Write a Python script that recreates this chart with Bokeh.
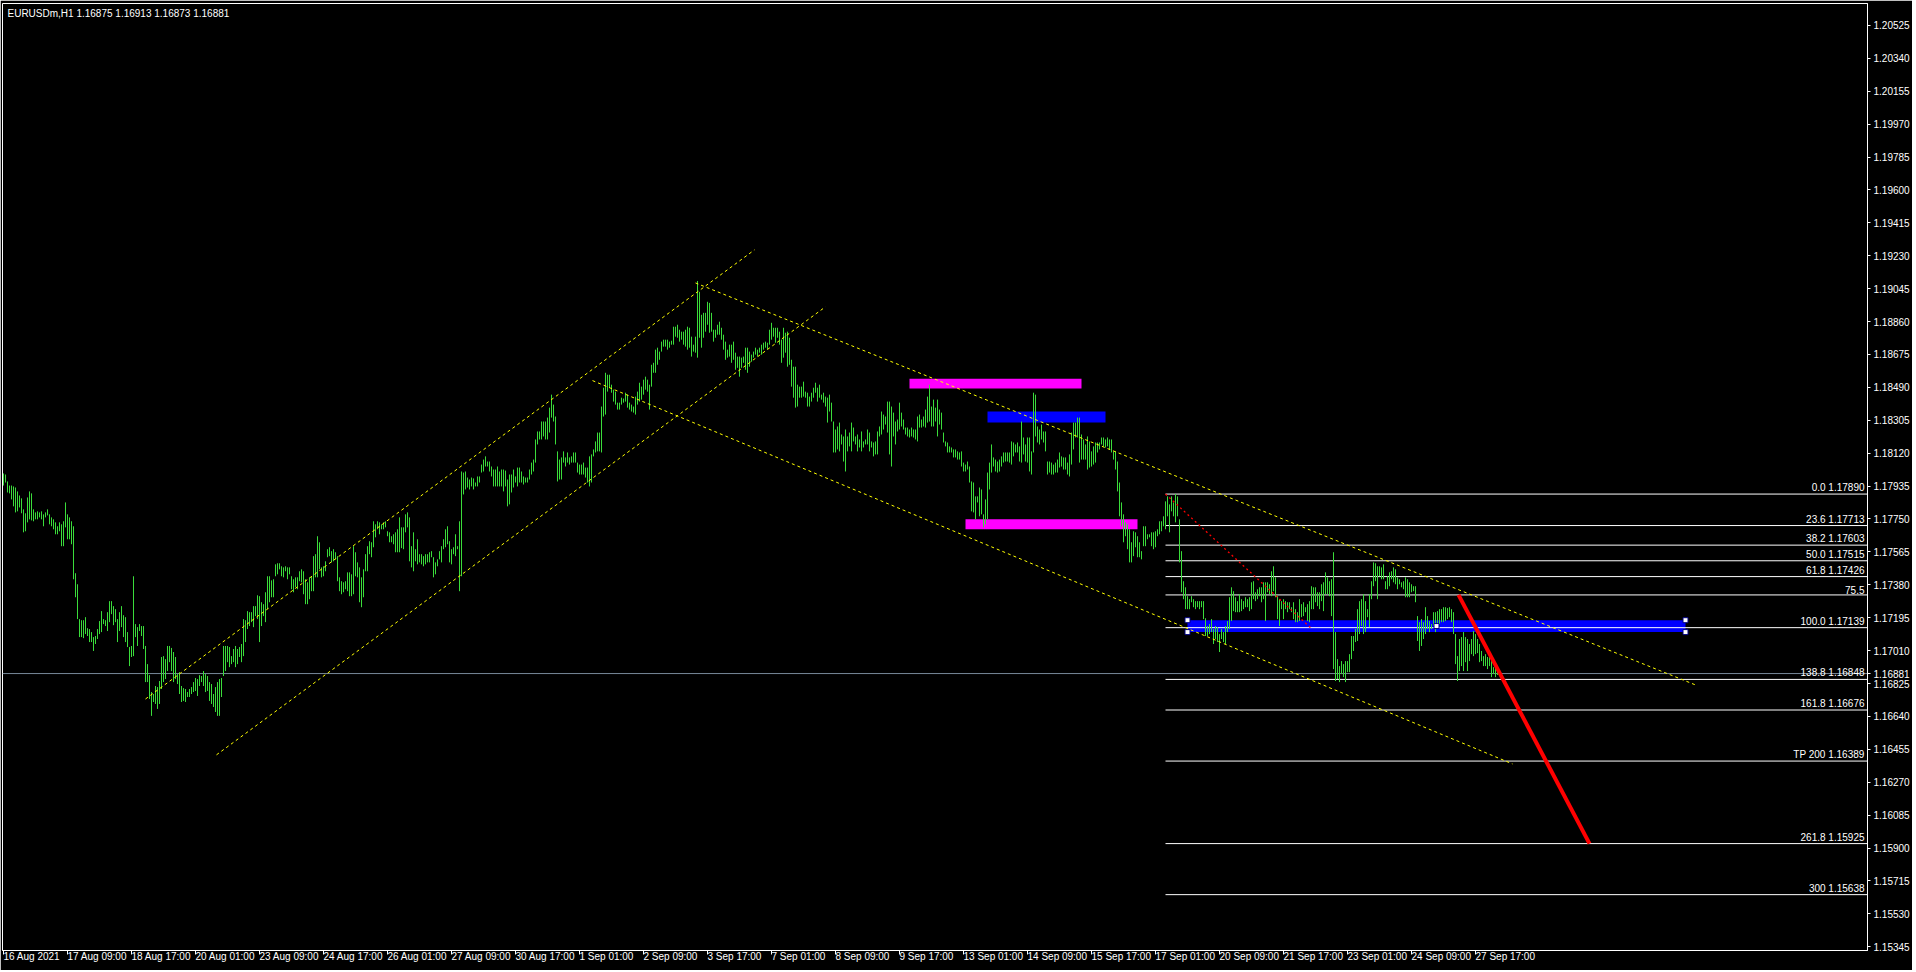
from bokeh.plotting import figure
from bokeh.models import Range1d, FixedTicker, PrintfTickFormatter
from bokeh.embed import file_html
from bokeh.resources import INLINE
from bokeh.core.properties import value

FONT = "Liberation Sans"

symbol_title = "EURUSDm,H1  1.16875 1.16913 1.16873 1.16881"
bid = 1.16881

# ---- hourly bar highs / lows (EURUSD H1, 16 Aug - 27 Sep 2021) ----
highs = [
    1.18006, 1.18000, 1.17961, 1.17938, 1.17938, 1.17933, 1.17927, 1.17905, 1.17882, 1.17866,
    1.17804, 1.17782, 1.17871, 1.17905, 1.17894, 1.17804, 1.17787, 1.17793, 1.17787, 1.17793,
    1.17776, 1.17787, 1.17804, 1.17776, 1.17759, 1.17748, 1.17731, 1.17709, 1.17731, 1.17720,
    1.17737, 1.17843, 1.17776, 1.17759, 1.17737, 1.17709, 1.17445, 1.17383, 1.17187, 1.17181,
    1.17181, 1.17198, 1.17136, 1.17131, 1.17114, 1.17086, 1.17092, 1.17131, 1.17176, 1.17232,
    1.17187, 1.17181, 1.17226, 1.17288, 1.17288, 1.17260, 1.17243, 1.17187, 1.17226, 1.17260,
    1.17209, 1.17198, 1.17114, 1.17030, 1.17036, 1.17428, 1.17159, 1.17142, 1.17159, 1.17148,
    1.17148, 1.17036, 1.16934, 1.16872, 1.16777, 1.16766, 1.16811, 1.16805, 1.16839, 1.16974,
    1.16979, 1.16962, 1.17036, 1.17036, 1.17025, 1.17002, 1.16974, 1.16878, 1.16889, 1.16811,
    1.16799, 1.16794, 1.16777, 1.16794, 1.16805, 1.16833, 1.16856, 1.16850, 1.16872, 1.16867,
    1.16895, 1.16878, 1.16867, 1.16833, 1.16822, 1.16766, 1.16805, 1.16833, 1.16850, 1.16856,
    1.17036, 1.17036, 1.17036, 1.17030, 1.16979, 1.17019, 1.17036, 1.17019, 1.17030, 1.17047,
    1.17187, 1.17181, 1.17232, 1.17226, 1.17226, 1.17260, 1.17260, 1.17321, 1.17316, 1.17282,
    1.17271, 1.17338, 1.17428, 1.17428, 1.17405, 1.17411, 1.17495, 1.17501, 1.17501, 1.17484,
    1.17478, 1.17484, 1.17478, 1.17478, 1.17428, 1.17411, 1.17422, 1.17422, 1.17456,
    1.17467, 1.17456, 1.17411, 1.17394, 1.17422, 1.17428, 1.17541, 1.17552, 1.17653, 1.17619,
    1.17478, 1.17484, 1.17512, 1.17580, 1.17591, 1.17569, 1.17580, 1.17563, 1.17541, 1.17422,
    1.17400, 1.17394, 1.17400, 1.17450, 1.17450, 1.17439, 1.17597, 1.17563, 1.17506, 1.17478,
    1.17422, 1.17467, 1.17552, 1.17597, 1.17625, 1.17619, 1.17737, 1.17720, 1.17737, 1.17731,
    1.17720, 1.17731, 1.17737, 1.17681, 1.17675, 1.17653, 1.17664, 1.17675, 1.17692, 1.17759,
    1.17703, 1.17703, 1.17776, 1.17787, 1.17759, 1.17597, 1.17675, 1.17580, 1.17636, 1.17552,
    1.17552, 1.17541, 1.17552, 1.17552, 1.17563, 1.17569, 1.17535, 1.17506, 1.17523, 1.17569,
    1.17597, 1.17636, 1.17692, 1.17709, 1.17625, 1.17580, 1.17591, 1.17664, 1.17597, 1.17737,
    1.18017, 1.18011, 1.18017, 1.17983, 1.17972, 1.17983, 1.17978, 1.17955, 1.17989, 1.17989,
    1.18056, 1.18084, 1.18102, 1.18073, 1.18073, 1.18045, 1.18028, 1.18028, 1.18045, 1.18017,
    1.18028, 1.18028, 1.18022, 1.17972, 1.18000, 1.18000, 1.18028, 1.17989, 1.18039, 1.18039,
    1.18017, 1.17989, 1.17983, 1.17983, 1.18028, 1.18067, 1.18084, 1.18197, 1.18242, 1.18242,
    1.18298, 1.18298, 1.18298, 1.18320, 1.18376, 1.18449, 1.18393, 1.18326, 1.18130, 1.18084,
    1.18096, 1.18130, 1.18096, 1.18124, 1.18096, 1.18102, 1.18124, 1.18124, 1.18067, 1.18056,
    1.18056, 1.18067, 1.18039, 1.18039, 1.18102, 1.18113, 1.18141, 1.18186, 1.18236, 1.18236,
    1.18382, 1.18488, 1.18572, 1.18561, 1.18561, 1.18505, 1.18477, 1.18466, 1.18404, 1.18404,
    1.18432, 1.18427, 1.18460, 1.18449, 1.18404, 1.18393, 1.18382, 1.18438, 1.18466, 1.18516,
    1.18494, 1.18533, 1.18550, 1.18533, 1.18505, 1.18617, 1.18628, 1.18702, 1.18713, 1.18691,
    1.18747, 1.18758, 1.18758, 1.18758, 1.18747, 1.18752, 1.18831, 1.18831, 1.18842, 1.18814,
    1.18803, 1.18803, 1.18814, 1.18831, 1.18825, 1.18775, 1.18730, 1.18775, 1.19088, 1.19027,
    1.18898, 1.18909, 1.18909, 1.18971, 1.18965, 1.18909,
    1.18814, 1.18814, 1.18842, 1.18859, 1.18825, 1.18786, 1.18747, 1.18702, 1.18730, 1.18730,
    1.18747, 1.18685, 1.18663, 1.18663, 1.18657, 1.18663, 1.18713, 1.18713, 1.18691, 1.18674,
    1.18691, 1.18713, 1.18702, 1.18713, 1.18730, 1.18741, 1.18747, 1.18741, 1.18814, 1.18853,
    1.18825, 1.18825, 1.18825, 1.18803, 1.18758, 1.18825, 1.18797, 1.18803, 1.18769, 1.18645,
    1.18606, 1.18606, 1.18505, 1.18494, 1.18494, 1.18522, 1.18466, 1.18460, 1.18438, 1.18460,
    1.18488, 1.18516, 1.18488, 1.18505, 1.18449, 1.18460, 1.18438, 1.18432, 1.18449, 1.18404,
    1.18298, 1.18253, 1.18270, 1.18292, 1.18225, 1.18214, 1.18253, 1.18214, 1.18236, 1.18292,
    1.18264, 1.18214, 1.18225, 1.18197, 1.18242, 1.18186, 1.18197, 1.18253, 1.18236, 1.18186,
    1.18180, 1.18186, 1.18242, 1.18270, 1.18354, 1.18337, 1.18326, 1.18410, 1.18410, 1.18382,
    1.18348, 1.18298, 1.18309, 1.18404, 1.18348, 1.18309, 1.18264, 1.18264, 1.18253, 1.18264,
    1.18253, 1.18253, 1.18326, 1.18337, 1.18309, 1.18326, 1.18365, 1.18438, 1.18505, 1.18382,
    1.18421, 1.18376, 1.18421, 1.18365, 1.18348, 1.18236, 1.18186, 1.18180, 1.18158, 1.18152,
    1.18141, 1.18141, 1.18130, 1.18124, 1.18130, 1.18067, 1.18056, 1.18073, 1.18045, 1.17961,
    1.17955, 1.17877, 1.17877, 1.17927, 1.17916, 1.17776, 1.17860, 1.18011, 1.18067, 1.18169,
    1.18096, 1.18084, 1.18073, 1.18084, 1.18102, 1.18124, 1.18124, 1.18124, 1.18124, 1.18186,
    1.18180, 1.18169, 1.18180, 1.18158, 1.18298, 1.18208, 1.18169, 1.18208, 1.18208, 1.18130,
    1.18460, 1.18449, 1.18270, 1.18253, 1.18281, 1.18242, 1.18242, 1.18073, 1.18073, 1.18067,
    1.18056, 1.18067, 1.18084, 1.18124, 1.18102, 1.18096, 1.18096, 1.18067, 1.18113, 1.18236,
    1.18292, 1.18292, 1.18320, 1.18320, 1.18225, 1.18197, 1.18169, 1.18214, 1.18186, 1.18130,
    1.18158, 1.18180, 1.18180, 1.18180, 1.18208, 1.18208, 1.18197, 1.18208, 1.18197, 1.18197,
    1.18130, 1.18130, 1.18073, 1.17955, 1.17843, 1.17776, 1.17731, 1.17720, 1.17692, 1.17619,
    1.17681, 1.17675, 1.17653, 1.17619, 1.17569, 1.17709, 1.17709, 1.17664, 1.17664, 1.17675,
    1.17675, 1.17681, 1.17692, 1.17737, 1.17737, 1.17765, 1.17849, 1.17877, 1.17832, 1.17877,
    1.17843, 1.17890, 1.17877,
    1.17748, 1.17569, 1.17400, 1.17366, 1.17316, 1.17299, 1.17316, 1.17299, 1.17288, 1.17288,
    1.17288, 1.17288, 1.17288, 1.17192, 1.17148, 1.17159, 1.17187, 1.17131, 1.17148, 1.17142,
    1.17103, 1.17131, 1.17114, 1.17148, 1.17176, 1.17310, 1.17366, 1.17344, 1.17310, 1.17288,
    1.17327, 1.17299, 1.17288, 1.17310, 1.17299, 1.17310, 1.17394, 1.17400, 1.17338, 1.17355,
    1.17366, 1.17366, 1.17394, 1.17394, 1.17394, 1.17383, 1.17456, 1.17484, 1.17422, 1.17316,
    1.17299, 1.17288, 1.17299, 1.17288, 1.17282, 1.17282, 1.17254, 1.17282, 1.17243, 1.17226,
    1.17299, 1.17271, 1.17282, 1.17254, 1.17271, 1.17288, 1.17372, 1.17366, 1.17366, 1.17338,
    1.17338, 1.17383, 1.17394, 1.17450, 1.17422, 1.17400, 1.17411, 1.17563, 1.17114, 1.16962,
    1.16923, 1.16951, 1.16934, 1.16951, 1.16951, 1.16990, 1.17092, 1.17092, 1.17131, 1.17243,
    1.17288, 1.17299, 1.17327, 1.17288, 1.17243, 1.17327, 1.17400, 1.17506, 1.17501, 1.17484,
    1.17484, 1.17478, 1.17495, 1.17400, 1.17428, 1.17450, 1.17456, 1.17478, 1.17467, 1.17422,
    1.17411, 1.17394, 1.17400, 1.17422, 1.17411, 1.17394, 1.17383, 1.17372, 1.17372, 1.17204,
    1.17170, 1.17187, 1.17170, 1.17254, 1.17204, 1.17176, 1.17159, 1.17226, 1.17226, 1.17232,
    1.17243, 1.17243, 1.17254, 1.17254, 1.17249, 1.17254, 1.17243, 1.17226, 1.17103, 1.16979,
    1.17075, 1.17086, 1.17114, 1.17086, 1.17075, 1.17047, 1.17075, 1.17120, 1.17103, 1.17075,
    1.17047, 1.17008, 1.16979, 1.16990, 1.16974, 1.16974, 1.16951, 1.16917, 1.16945, 1.16913,
]
lows = [
    1.17938, 1.17955, 1.17899, 1.17894, 1.17860, 1.17821, 1.17787, 1.17793, 1.17815, 1.17782,
    1.17675, 1.17681, 1.17731, 1.17748, 1.17742, 1.17737, 1.17748, 1.17748, 1.17759, 1.17748,
    1.17709, 1.17759, 1.17770, 1.17720, 1.17709, 1.17692, 1.17664, 1.17664, 1.17681, 1.17597,
    1.17597, 1.17703, 1.17636, 1.17636, 1.17608, 1.17411, 1.17310, 1.17187, 1.17086, 1.17086,
    1.17080, 1.17103, 1.17092, 1.17058, 1.17058, 1.17008, 1.17047, 1.17075, 1.17103, 1.17114,
    1.17159, 1.17148, 1.17120, 1.17170, 1.17215, 1.17153, 1.17170, 1.17058, 1.17120, 1.17142,
    1.17086, 1.17058, 1.17030, 1.16923, 1.16974, 1.16979, 1.17086, 1.17036, 1.17120, 1.17092,
    1.17019, 1.16833, 1.16833, 1.16738, 1.16643, 1.16721, 1.16710, 1.16682, 1.16710, 1.16794,
    1.16833, 1.16850, 1.16895, 1.16945, 1.16895, 1.16833, 1.16850, 1.16822, 1.16766, 1.16721,
    1.16727, 1.16721, 1.16749, 1.16749, 1.16766, 1.16777, 1.16783, 1.16755, 1.16811, 1.16833,
    1.16811, 1.16777, 1.16783, 1.16727, 1.16710, 1.16693, 1.16665, 1.16643, 1.16643, 1.16749,
    1.16867, 1.16895, 1.16945, 1.16917, 1.16934, 1.16945, 1.16917, 1.16934, 1.16974, 1.16945,
    1.16979, 1.17058, 1.17131, 1.17148, 1.17170, 1.17142, 1.17204, 1.17187, 1.17058, 1.17148,
    1.17204, 1.17170, 1.17243, 1.17282, 1.17310, 1.17310, 1.17428, 1.17439, 1.17467, 1.17428,
    1.17422, 1.17456, 1.17411, 1.17439, 1.17355, 1.17338, 1.17366, 1.17355, 1.17400,
    1.17394, 1.17327, 1.17271, 1.17271, 1.17299, 1.17344, 1.17344, 1.17422, 1.17422, 1.17467,
    1.17422, 1.17428, 1.17456, 1.17535, 1.17541, 1.17506, 1.17512, 1.17523, 1.17400, 1.17344,
    1.17327, 1.17338, 1.17355, 1.17344, 1.17316, 1.17316, 1.17327, 1.17428, 1.17422, 1.17282,
    1.17254, 1.17310, 1.17456, 1.17456, 1.17552, 1.17535, 1.17591, 1.17647, 1.17692, 1.17664,
    1.17692, 1.17692, 1.17703, 1.17653, 1.17619, 1.17619, 1.17608, 1.17563, 1.17563, 1.17563,
    1.17586, 1.17580, 1.17675, 1.17703, 1.17512, 1.17478, 1.17456, 1.17512, 1.17495, 1.17506,
    1.17495, 1.17484, 1.17495, 1.17506, 1.17506, 1.17535, 1.17422, 1.17439, 1.17484, 1.17523,
    1.17506, 1.17580, 1.17591, 1.17608, 1.17506, 1.17495, 1.17552, 1.17541, 1.17580, 1.17344,
    1.17428, 1.17888, 1.17916, 1.17927, 1.17916, 1.17933, 1.17916, 1.17933, 1.17933, 1.17955,
    1.18011, 1.18017, 1.18045, 1.18045, 1.18017, 1.17989, 1.17933, 1.17933, 1.17933, 1.17933,
    1.17933, 1.17905, 1.17933, 1.17821, 1.17832, 1.17899, 1.17927, 1.17955, 1.17933, 1.17955,
    1.17955, 1.17944, 1.17955, 1.17955, 1.17972, 1.18000, 1.18017, 1.18067, 1.18169, 1.18197,
    1.18197, 1.18214, 1.18197, 1.18197, 1.18236, 1.18320, 1.18298, 1.18169, 1.17961, 1.17972,
    1.17972, 1.18067, 1.18045, 1.18067, 1.18056, 1.18067, 1.18067, 1.18067, 1.18011, 1.18000,
    1.18000, 1.18000, 1.17983, 1.17955, 1.17933, 1.17955, 1.18102, 1.18124, 1.18130, 1.18130,
    1.18124, 1.18326, 1.18337, 1.18466, 1.18488, 1.18460, 1.18410, 1.18393, 1.18365, 1.18365,
    1.18393, 1.18404, 1.18410, 1.18376, 1.18365, 1.18354, 1.18348, 1.18337, 1.18393, 1.18410,
    1.18421, 1.18449, 1.18477, 1.18466, 1.18365, 1.18494, 1.18572, 1.18572, 1.18617, 1.18645,
    1.18691, 1.18719, 1.18719, 1.18702, 1.18713, 1.18730, 1.18730, 1.18775, 1.18769, 1.18747,
    1.18758, 1.18730, 1.18719, 1.18702, 1.18713, 1.18663, 1.18691, 1.18685, 1.18657, 1.18769,
    1.18713, 1.18769, 1.18803, 1.18842, 1.18797, 1.18803,
    1.18747, 1.18769, 1.18786, 1.18786, 1.18758, 1.18702, 1.18645, 1.18657, 1.18663, 1.18628,
    1.18645, 1.18589, 1.18600, 1.18550, 1.18600, 1.18628, 1.18589, 1.18572, 1.18606, 1.18634,
    1.18657, 1.18674, 1.18663, 1.18685, 1.18674, 1.18702, 1.18713, 1.18702, 1.18730, 1.18758,
    1.18775, 1.18741, 1.18769, 1.18730, 1.18628, 1.18657, 1.18685, 1.18606, 1.18617, 1.18494,
    1.18432, 1.18376, 1.18382, 1.18432, 1.18432, 1.18438, 1.18432, 1.18382, 1.18382, 1.18410,
    1.18432, 1.18460, 1.18410, 1.18432, 1.18421, 1.18404, 1.18382, 1.18292, 1.18354, 1.18298,
    1.18124, 1.18124, 1.18141, 1.18130, 1.18169, 1.18073, 1.18017, 1.18130, 1.18158, 1.18130,
    1.18186, 1.18169, 1.18130, 1.18152, 1.18130, 1.18152, 1.18169, 1.18169, 1.18130, 1.18152,
    1.18102, 1.18113, 1.18113, 1.18214, 1.18225, 1.18253, 1.18281, 1.18236, 1.18113, 1.18045,
    1.18214, 1.18169, 1.18242, 1.18253, 1.18270, 1.18253, 1.18225, 1.18214, 1.18208, 1.18214,
    1.18208, 1.18197, 1.18186, 1.18264, 1.18264, 1.18270, 1.18264, 1.18292, 1.18298, 1.18270,
    1.18270, 1.18298, 1.18214, 1.18281, 1.18253, 1.18180, 1.18158, 1.18124, 1.18124, 1.18124,
    1.18096, 1.18096, 1.18084, 1.18084, 1.18045, 1.18017, 1.18017, 1.18028, 1.17955, 1.17793,
    1.17787, 1.17748, 1.17843, 1.17765, 1.17776, 1.17703, 1.17720, 1.17748, 1.17916, 1.18011,
    1.18045, 1.18017, 1.18011, 1.18017, 1.18045, 1.18067, 1.18073, 1.18073, 1.18067, 1.18056,
    1.18102, 1.18124, 1.18124, 1.18073, 1.18067, 1.18113, 1.18073, 1.18067, 1.18017, 1.18000,
    1.18124, 1.18214, 1.18180, 1.18169, 1.18197, 1.18180, 1.18130, 1.18000, 1.18011, 1.18000,
    1.18000, 1.18011, 1.18011, 1.18039, 1.18045, 1.18028, 1.18028, 1.18000, 1.17989, 1.18056,
    1.18141, 1.18208, 1.18208, 1.18067, 1.18084, 1.18084, 1.18084, 1.18028, 1.18039, 1.18045,
    1.18056, 1.18067, 1.18124, 1.18141, 1.18169, 1.18158, 1.18152, 1.18158, 1.18141, 1.18124,
    1.18084, 1.18028, 1.17905, 1.17765, 1.17709, 1.17619, 1.17653, 1.17580, 1.17506, 1.17506,
    1.17541, 1.17591, 1.17535, 1.17535, 1.17523, 1.17597, 1.17597, 1.17636, 1.17647, 1.17597,
    1.17580, 1.17591, 1.17653, 1.17664, 1.17681, 1.17709, 1.17692, 1.17765, 1.17675, 1.17793,
    1.17765, 1.17731, 1.17765,
    1.17506, 1.17338, 1.17299, 1.17243, 1.17243, 1.17243, 1.17282, 1.17254, 1.17243, 1.17254,
    1.17243, 1.17254, 1.17187, 1.17092, 1.17092, 1.17103, 1.17114, 1.17047, 1.17075, 1.17058,
    1.17002, 1.17075, 1.17058, 1.17047, 1.17114, 1.17131, 1.17176, 1.17232, 1.17226, 1.17226,
    1.17226, 1.17232, 1.17243, 1.17254, 1.17254, 1.17232, 1.17243, 1.17299, 1.17288, 1.17299,
    1.17316, 1.17282, 1.17299, 1.17176, 1.17338, 1.17327, 1.17316, 1.17344, 1.17310, 1.17187,
    1.17148, 1.17243, 1.17187, 1.17243, 1.17226, 1.17243, 1.17226, 1.17187, 1.17170, 1.17170,
    1.17176, 1.17198, 1.17204, 1.17226, 1.17176, 1.17170, 1.17243, 1.17243, 1.17282, 1.17260,
    1.17243, 1.17288, 1.17232, 1.17327, 1.17327, 1.17316, 1.17204, 1.16906, 1.16839, 1.16850,
    1.16833, 1.16878, 1.16861, 1.16833, 1.16889, 1.16889, 1.16962, 1.17008, 1.17058, 1.17064,
    1.17103, 1.17148, 1.17103, 1.17114, 1.17198, 1.17142, 1.17299, 1.17372, 1.17400, 1.17299,
    1.17428, 1.17411, 1.17411, 1.17355, 1.17355, 1.17372, 1.17411, 1.17394, 1.17383, 1.17355,
    1.17383, 1.17366, 1.17355, 1.17310, 1.17310, 1.17310, 1.17338, 1.17344, 1.17282, 1.17064,
    1.17008, 1.17036, 1.17075, 1.17103, 1.17131, 1.17114, 1.17131, 1.17148, 1.17114, 1.17148,
    1.17159, 1.17170, 1.17170, 1.17176, 1.17187, 1.17198, 1.17170, 1.17103, 1.16934, 1.16839,
    1.16895, 1.16923, 1.16895, 1.16945, 1.16895, 1.16951, 1.16990, 1.16979, 1.16990, 1.16996,
    1.16945, 1.16951, 1.16923, 1.16923, 1.16906, 1.16923, 1.16861, 1.16878, 1.16861, 1.16873,
]
assert len(highs) == len(lows), (len(highs), len(lows))
bar_index = list(range(len(highs)))

# ---- axis ticks ----
time_ticks = [0, 32, 64, 96, 128, 160, 192, 224, 256, 288, 320, 352,
              384, 416, 448, 480, 512, 544, 576, 608, 640, 672, 704, 736]
time_labels = ["16 Aug 2021", "17 Aug 09:00", "18 Aug 17:00", "20 Aug 01:00", "23 Aug 09:00",
               "24 Aug 17:00", "26 Aug 01:00", "27 Aug 09:00", "30 Aug 17:00", "1 Sep 01:00",
               "2 Sep 09:00", "3 Sep 17:00", "7 Sep 01:00", "8 Sep 09:00", "9 Sep 17:00",
               "13 Sep 01:00", "14 Sep 09:00", "15 Sep 17:00", "17 Sep 01:00", "20 Sep 09:00",
               "21 Sep 17:00", "23 Sep 01:00", "24 Sep 09:00", "27 Sep 17:00"]
price_ticks = [1.15345, 1.15530, 1.15715, 1.15900, 1.16085, 1.16270, 1.16455, 1.16640,
               1.16825, 1.17010, 1.17195, 1.17380, 1.17565, 1.17750, 1.17935, 1.18120,
               1.18305, 1.18490, 1.18675, 1.18860, 1.19045, 1.19230, 1.19415, 1.19600,
               1.19785, 1.19970, 1.20155, 1.20340, 1.20525]

# ---- Fibonacci expansion ----
fib_start_bar = 581
fib_prices = [1.17890, 1.17713, 1.17603, 1.17515, 1.17426, 1.17323, 1.17139,
              1.16848, 1.16676, 1.16389, 1.15925, 1.15638]
fib_texts = ["0.0 1.17890", "23.6 1.17713", "38.2 1.17603", "50.0 1.17515", "61.8 1.17426",
             "75.5", "100.0 1.17139", "138.8 1.16848", "161.8 1.16676", "TP 200 1.16389",
             "261.8 1.15925", "300 1.15638"]
fib_base_bars = [581, 653.5]
fib_base_prices = [1.17890, 1.17139]

# ---- trend channels (bar index / price anchors) ----
chan_bar0 = [71, 106.5, 346, 294.5]
chan_price0 = [1.16738, 1.16424, 1.19077, 1.18528]
chan_bar1 = [375.5, 411, 846, 754.5]
chan_price1 = [1.19263, 1.18943, 1.16817, 1.16373]

# ---- supply / demand zones ----
zone_left = [453, 481, 492, 592]
zone_right = [539, 567, 551, 841]
zone_top = [1.18539, 1.17748, 1.18354, 1.17181]
zone_bottom = [1.18483, 1.17692, 1.18292, 1.17114]
zone_color = ["#FF00FF", "#FF00FF", "#0000FF", "#0000FF"]
handle_bars = [592, 592, 841, 841, 716.5]
handle_prices = [1.17181, 1.17114, 1.17181, 1.17114, 1.17148]

# ---- projected move ----
target_bars = [727.5, 793]
target_prices = [1.17323, 1.15925]

FRAME_W, FRAME_H = 1865, 947
X0 = -0.5
X1 = X0 + FRAME_W / 2.0
Y0, Y1 = 1.15324, 1.20648

p = figure(frame_width=FRAME_W, frame_height=FRAME_H,
           x_range=Range1d(X0, X1), y_range=Range1d(Y0, Y1),
           output_backend="svg", toolbar_location=None, y_axis_location="right",
           background_fill_color="black", border_fill_color="black",
           min_border_left=2, min_border_top=3, min_border_right=0, min_border_bottom=0)
p.grid.visible = False
p.outline_line_color = "white"
p.outline_line_width = 1

ya = p.yaxis[0]
ya.ticker = FixedTicker(ticks=price_ticks + [bid])
ya.formatter = PrintfTickFormatter(format="%.5f")
ya.axis_line_color = "white"
ya.major_tick_line_color = "white"
ya.major_tick_in = 0
ya.major_tick_out = 3
ya.minor_tick_line_color = None
ya.major_label_text_color = "white"
ya.major_label_text_font = FONT
ya.major_label_text_font_size = "10px"
ya.major_label_standoff = 3

xa = p.xaxis[0]
xa.ticker = FixedTicker(ticks=time_ticks)
xa.major_label_overrides = {t: l for t, l in zip(time_ticks, time_labels)}
xa.major_label_orientation = -0.0001
xa.axis_line_color = "white"
xa.major_tick_line_color = "white"
xa.major_tick_in = 0
xa.major_tick_out = 4
xa.minor_tick_line_color = None
xa.major_label_text_color = "white"
xa.major_label_text_font = FONT
xa.major_label_text_font_size = "10px"
xa.major_label_standoff = 2

# zones (background)
p.quad(left=zone_left, right=zone_right, top=zone_top, bottom=zone_bottom,
       fill_color=zone_color, line_color=None)

# bid line
p.segment(x0=[X0], x1=[X1], y0=[bid], y1=[bid], line_color="#778899", line_width=1)

# fib levels
p.segment(x0=[fib_start_bar] * len(fib_prices), x1=[X1] * len(fib_prices),
          y0=fib_prices, y1=fib_prices, line_color="white", line_width=1)

# price bars
p.segment(x0=bar_index, x1=bar_index, y0=lows, y1=highs, line_color="#3ADC3A", line_width=1)

# channels
p.segment(x0=chan_bar0, y0=chan_price0, x1=chan_bar1, y1=chan_price1,
          line_color="#FFFF00", line_width=1, line_dash="3 3")

# fib base line
p.line(fib_base_bars, fib_base_prices, line_color="#FF0000", line_width=1.3, line_dash="2 3")

# projected move
p.line(target_bars, target_prices, line_color="#FF0000", line_width=4)

# rectangle handles
p.scatter(handle_bars, handle_prices, marker="square", size=5,
          fill_color="white", line_color="#000080", line_width=1)

# fib labels
p.text(x=[X1] * len(fib_prices), y=fib_prices, text=fib_texts,
       text_align="right", text_baseline="bottom", x_offset=-3, y_offset=-1,
       text_color="white", text_font=value(FONT), text_font_size="10px")

# title
p.text(x=[X0], y=[Y1], text=[symbol_title], text_align="left", text_baseline="top",
       x_offset=5, y_offset=4, text_color="white", text_font=value(FONT), text_font_size="10px")

open("out.html", "w").write(file_html(p, INLINE))
